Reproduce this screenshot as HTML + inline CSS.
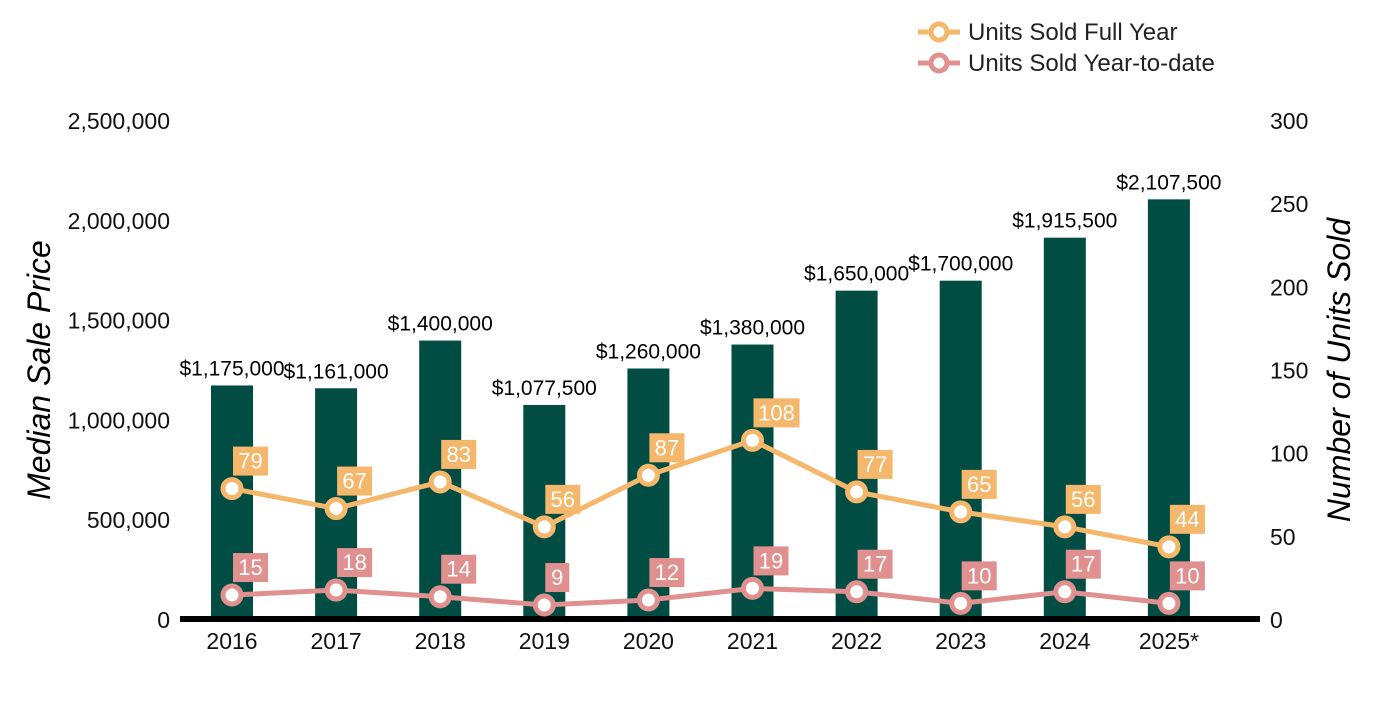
<!DOCTYPE html>
<html><head><meta charset="utf-8"><style>
body{margin:0;background:#fff;width:1400px;height:700px;overflow:hidden;font-family:"Liberation Sans",Arial,sans-serif}
</style></head><body>
<svg id="chart" width="1400" height="700" xmlns="http://www.w3.org/2000/svg" font-family="Liberation Sans, Arial, sans-serif">
<g>
<g><line x1="918" y1="32" x2="960" y2="32" stroke="#F5B76B" stroke-width="5"/><circle cx="939" cy="32" r="8" fill="#fff" stroke="#F5B76B" stroke-width="5"/><text x="968" y="40" font-size="24" fill="#222">Units Sold Full Year</text></g>
<g><line x1="918" y1="63" x2="960" y2="63" stroke="#E0918F" stroke-width="5"/><circle cx="939" cy="63" r="8" fill="#fff" stroke="#E0918F" stroke-width="5"/><text x="968" y="71" font-size="24" fill="#222">Units Sold Year-to-date</text></g>
</g>
<text transform="translate(50,370) rotate(-90)" text-anchor="middle" font-size="32" font-style="italic" fill="#000">Median Sale Price</text>
<text transform="translate(1350,370) rotate(-90)" text-anchor="middle" font-size="32" font-style="italic" fill="#000">Number of Units Sold</text>
<g id="g"></g>
</svg>
<script>
const years=["2016","2017","2018","2019","2020","2021","2022","2023","2024","2025*"];
const prices=[1175000,1161000,1400000,1077500,1260000,1380000,1650000,1700000,1915500,2107500];
const fullYear=[79,67,83,56,87,108,77,65,56,44];
const ytd=[15,18,14,9,12,19,17,10,17,10];
const leftTicks=[0,500000,1000000,1500000,2000000,2500000];
const rightTicks=[0,50,100,150,200,250,300];
const NS="http://www.w3.org/2000/svg";
const g=document.getElementById('g');
const baseY=620,topY=121;
const yL=v=>baseY-(v/2500000)*(baseY-topY);
const yR=v=>baseY-(v/300)*(baseY-topY);
const xC=i=>232+i*104.1;
function mk(t,a){const e=document.createElementNS(NS,t);for(const k in a)e.setAttribute(k,a[k]);g.appendChild(e);return e;}
const fmt=n=>n.toLocaleString('en-US');
leftTicks.forEach(v=>{const t=mk('text',{x:170,y:yL(v)+8,'text-anchor':'end','font-size':23,fill:'#111'});t.textContent=fmt(v);

});
rightTicks.forEach(v=>{const t=mk('text',{x:1270,y:yR(v)+8,'font-size':23,fill:'#111'});t.textContent=v;

});
prices.forEach((p,i)=>{const r=mk('rect',{x:xC(i)-21,y:yL(p),width:42,height:616-yL(p),fill:'#024D43'});


const t=mk('text',{x:xC(i),y:yL(p)-10,'text-anchor':'middle','font-size':21,fill:'#000'});t.textContent='$'+fmt(p);


const xl=mk('text',{x:xC(i),y:649,'text-anchor':'middle','font-size':23,fill:'#111'});xl.textContent=years[i];

});
const ax=mk('line',{x1:180,y1:619,x2:1260,y2:619,stroke:'#000','stroke-width':6});


function series(vals,col,name){
const pl=mk('polyline',{points:vals.map((v,i)=>xC(i)+','+yR(v)).join(' '),fill:'none',stroke:col,'stroke-width':5});


vals.forEach((v,i)=>{const c=mk('circle',{cx:xC(i),cy:yR(v),r:9,fill:'#fff',stroke:col,'stroke-width':5});


const w=String(v).length>2?46:String(v).length>1?35:24;
const b=mk('rect',{x:xC(i)+1,y:yR(v)-42,width:w,height:29,fill:col});


const t=mk('text',{x:xC(i)+1+w/2,y:yR(v)-20,'text-anchor':'middle','font-size':22,fill:'#fff'});t.textContent=v;

});}
series(fullYear,'#F5B76B','full-year');
series(ytd,'#E0918F','ytd');
</script>
</body></html>
